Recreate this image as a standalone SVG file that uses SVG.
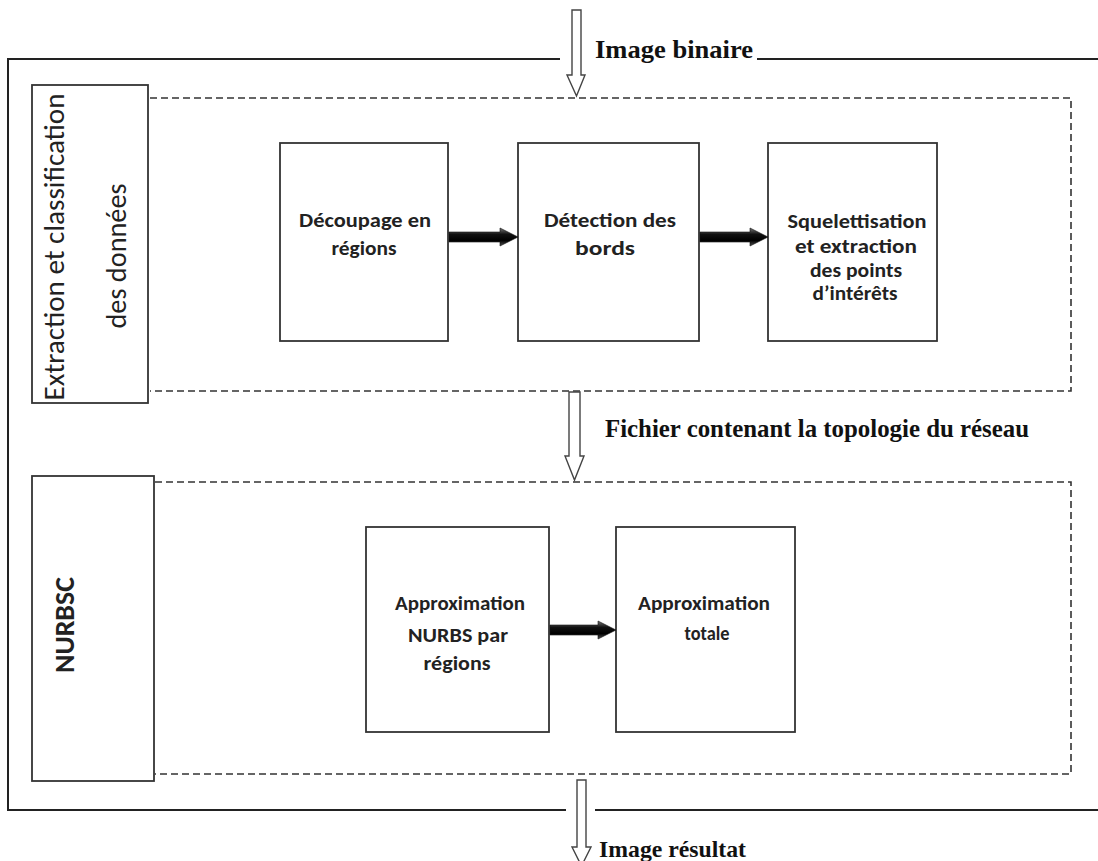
<svg xmlns="http://www.w3.org/2000/svg" width="1098" height="861" viewBox="0 0 1098 861">
  <defs>
    <linearGradient id="blk" x1="0" y1="0" x2="0" y2="1">
      <stop offset="0" stop-color="#777"/>
      <stop offset="0.35" stop-color="#111"/>
      <stop offset="0.7" stop-color="#000"/>
      <stop offset="1" stop-color="#555"/>
    </linearGradient>
  </defs>
  <style>
    .frame { fill: none; stroke: #222; stroke-width: 2; }
    .dash { fill: none; stroke: #333; stroke-width: 1.6; stroke-dasharray: 7 4; }
    .box { fill: #fff; stroke: #333; stroke-width: 1.8; }
    .hollow { fill: #fff; stroke: #444; stroke-width: 1.4; stroke-linejoin: miter; }
    .solid { fill: url(#blk); stroke: #111; stroke-width: 0.6; }
    .serif { font-family: "Liberation Serif", "Times New Roman", serif; font-weight: bold; fill: #111; }
    .sans { font-family: Carlito, Lato, "Open Sans", sans-serif; fill: #222; text-anchor: middle; }
    .box-text { font-size: 20px; font-weight: 600; }
    .side { font-size: 28px; }
  </style>
  <rect width="1098" height="861" fill="#fff"/>

  <!-- outer frame -->
  <g id="outer-frame">
    <path class="frame" d="M560 59 H8 V810 H566 M595 810 H1098 M757 59 H1098"/>
  </g>

  <!-- dashed group frames -->
  <g id="group-extraction">
    <path class="dash" d="M150 98 H1071 V391 H150"/>
  </g>
  <g id="group-nurbsc">
    <path class="dash" d="M155 482 H1071 V774 H155"/>
  </g>

  <!-- side labels -->
  <g id="label-extraction">
    <rect class="box" x="32" y="85" width="116" height="318"/>
    <text class="sans side" transform="translate(64,247) rotate(-90)" textLength="307" lengthAdjust="spacingAndGlyphs">Extraction  et classification</text>
    <text class="sans side" transform="translate(126,256) rotate(-90)" textLength="145" lengthAdjust="spacingAndGlyphs">des données</text>
  </g>
  <g id="label-nurbsc">
    <rect class="box" x="32" y="476" width="122" height="305"/>
    <text class="sans side" font-weight="bold" transform="translate(74,625) rotate(-90)" textLength="96" lengthAdjust="spacingAndGlyphs">NURBSC</text>
  </g>

  <!-- process nodes -->
  <g id="node-decoupage">
    <rect class="box" x="280" y="143" width="168" height="198"/>
    <text class="sans box-text" x="365" y="227" textLength="132" lengthAdjust="spacingAndGlyphs">Découpage en</text>
    <text class="sans box-text" x="364" y="255" textLength="65" lengthAdjust="spacingAndGlyphs">régions</text>
  </g>
  <g id="node-detection">
    <rect class="box" x="518" y="143" width="181" height="198"/>
    <text class="sans box-text" x="610" y="227" textLength="132" lengthAdjust="spacingAndGlyphs">Détection  des</text>
    <text class="sans box-text" x="605" y="255" textLength="60" lengthAdjust="spacingAndGlyphs">bords</text>
  </g>
  <g id="node-squelettisation">
    <rect class="box" x="768" y="143" width="169" height="198"/>
    <text class="sans box-text" x="857" y="228" textLength="139" lengthAdjust="spacingAndGlyphs">Squelettisation</text>
    <text class="sans box-text" x="856" y="253" textLength="122" lengthAdjust="spacingAndGlyphs">et extraction</text>
    <text class="sans box-text" x="856" y="277" textLength="92" lengthAdjust="spacingAndGlyphs">des points</text>
    <text class="sans box-text" x="855" y="300" textLength="85" lengthAdjust="spacingAndGlyphs">d’intérêts</text>
  </g>
  <g id="node-approx-regions">
    <rect class="box" x="366" y="527" width="183" height="205"/>
    <text class="sans box-text" x="460" y="610" textLength="130" lengthAdjust="spacingAndGlyphs">Approximation</text>
    <text class="sans box-text" x="458" y="642" textLength="100" lengthAdjust="spacingAndGlyphs">NURBS par</text>
    <text class="sans box-text" x="457" y="670" textLength="67" lengthAdjust="spacingAndGlyphs">régions</text>
  </g>
  <g id="node-approx-totale">
    <rect class="box" x="616" y="527" width="179" height="205"/>
    <text class="sans box-text" x="704" y="610" textLength="132" lengthAdjust="spacingAndGlyphs">Approximation</text>
    <text class="sans box-text" x="707" y="640" textLength="45" lengthAdjust="spacingAndGlyphs">totale</text>
  </g>

  <!-- connectors -->
  <g id="connectors">
    <!-- hollow flow arrows -->
    <polygon class="hollow" points="572,10 581,10 581,75 585,75 576.5,96 567,75 572,75"/>
    <polygon class="hollow" points="569,392 580,392 580,456 584,456 574.5,480 565,456 569,456"/>
    <polygon class="hollow" points="577,780 586,780 586,847 591,847 581.5,866 572,847 577,847"/>
    <!-- solid block arrows -->
    <polygon class="solid" points="449,232 500,232 500,228 518,237 500,246 500,242 449,242"/>
    <polygon class="solid" points="700,232 750,232 750,228 768,237 750,246 750,242 700,242"/>
    <polygon class="solid" points="550,625 598,625 598,621 616,630 598,639 598,635 550,635"/>
  </g>

  <!-- flow labels -->
  <g id="flow-labels">
    <text class="serif" x="595" y="58" font-size="26" textLength="158" lengthAdjust="spacingAndGlyphs">Image binaire</text>
    <text class="serif" x="605" y="437" font-size="26" textLength="424" lengthAdjust="spacingAndGlyphs">Fichier contenant la topologie du réseau</text>
    <text class="serif" x="599" y="857" font-size="24" textLength="147" lengthAdjust="spacingAndGlyphs">Image résultat</text>
  </g>
</svg>
